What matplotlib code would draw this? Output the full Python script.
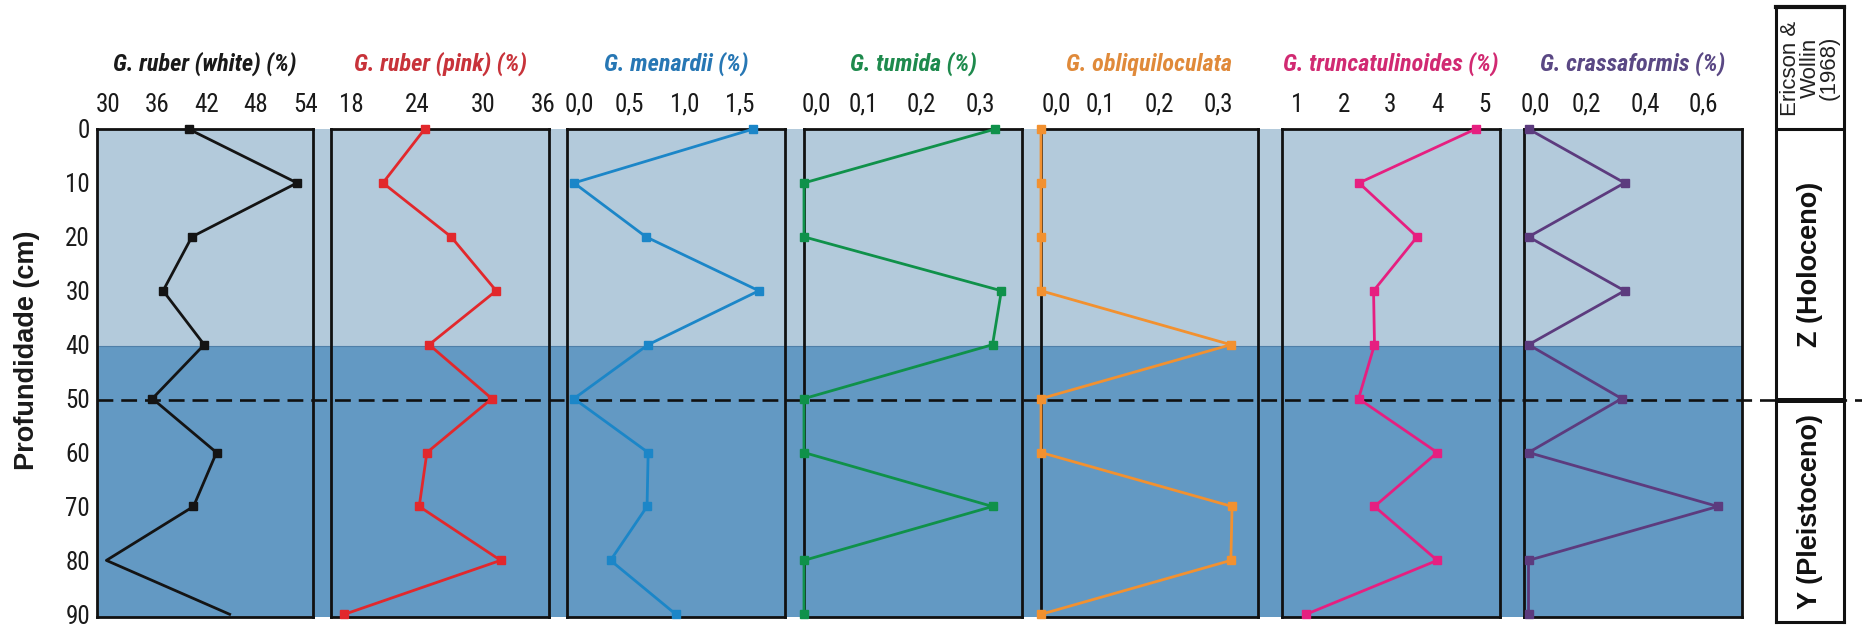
import matplotlib
matplotlib.use("Agg")
import matplotlib.pyplot as plt
from matplotlib import font_manager as fm
from matplotlib.ticker import FixedLocator, FuncFormatter
from matplotlib.transforms import ScaledTranslation

# ---------------------------------------------------------------- data
depth = [0, 10, 20, 30, 40, 50, 60, 70, 80, 90]

ruber_white = [39.8, 53.0, 40.2, 36.7, 41.7, 35.4, 43.2, 40.4, 29.8, 44.8]
ruber_pink = [24.7, 20.9, 27.1, 31.2, 25.1, 30.8, 24.9, 24.2, 31.6, 17.4]
menardii = [1.62, 0.0, 0.65, 1.67, 0.67, 0.0, 0.67, 0.66, 0.33, 0.92]
tumida = [0.325, 0.0, 0.0, 0.335, 0.32, 0.0, 0.0, 0.32, 0.0, 0.0]
obliquiloculata = [0.0, 0.0, 0.0, 0.0, 0.322, 0.0, 0.0, 0.324, 0.322, 0.0]
truncatulinoides = [4.82, 2.33, 3.57, 2.64, 2.66, 2.32, 4.0, 2.66, 4.0, 1.2]
crassaformis = [0.0, 0.33, 0.0, 0.33, 0.0, 0.32, 0.0, 0.65, 0.0, 0.0]

titles = ["G. ruber (white) (%)", "G. ruber (pink) (%)", "G. menardii (%)",
          "G. tumida (%)", "G. obliquiloculata", "G. truncatulinoides (%)",
          "G. crassaformis (%)"]
x_ticks = [[30, 36, 42, 48, 54], [18, 24, 30, 36], [0.0, 0.5, 1.0, 1.5],
           [0.0, 0.1, 0.2, 0.3], [0.0, 0.1, 0.2, 0.3], [1, 2, 3, 4, 5],
           [0.0, 0.2, 0.4, 0.6]]
depth_ticks = [0, 10, 20, 30, 40, 50, 60, 70, 80, 90]

shading_break = 40.2      # change of background shade
zone_boundary = 50.3      # Z / Y boundary (dashed line)
zone_labels = ["Z (Holoceno)", "Y (Pleistoceno)"]
scheme_label = "Ericson &\nWollin\n(1968)"
depth_label = "Profundidade (cm)"

series = [ruber_white, ruber_pink, menardii, tumida, obliquiloculata,
          truncatulinoides, crassaformis]

# ---------------------------------------------------------------- styling
line_colors = ["#141414", "#e2282c", "#1b86c8", "#0f914a", "#f29130",
               "#e61f80", "#5c3b7e"]
title_colors = ["#1a1a1a", "#c8333a", "#2777b4", "#1e8a4d", "#e08a3a",
                "#d12a72", "#5a4884"]
decimals = [0, 0, 1, 1, 1, 0, 1]
xlims = [(28.66, 54.94), (16.18, 36.0), (-0.063, 1.906), (0.0, 0.370),
         (0.0, 0.368), (0.685, 5.34), (-0.0155, 0.733)]
# panel frames in pixels (left, right)
panel_px = [(97, 313), (331, 549), (567, 785), (804, 1022), (1041, 1258),
            (1282, 1500), (1524, 1742)]
first_label_shift = [0, 0, 5, 12, 15, 0, 7]
last_label_shift = [0, -6, 0, 0, 0, 0, 0]
markers_upto = [8, 10, 10, 10, 10, 10, 10]

W, H = 1862, 626
TOP, BOTTOM = 129, 617
YLIM = (90.5, 0)
BG_LIGHT = "#b3cadb"
BG_DARK = "#6399c3"

# a condensed face for ticks and headers, if one is installed
fonts = fm.fontManager.ttflist
available = {f.name for f in fonts}
narrow = None
for cand in ["Liberation Sans Narrow", "Arial Narrow", "Roboto Condensed",
             "Open Sans Condensed", "Noto Sans Condensed",
             "DejaVu Sans Condensed"]:
    if cand in available:
        narrow = {"family": cand}
        break
if narrow is None:
    for f in fonts:
        if f.name == "DejaVu Sans" and str(f.stretch) in ("condensed", "semi-condensed"):
            narrow = {"family": "DejaVu Sans", "stretch": "condensed"}
            break
if narrow is not None:
    tick_size, title_size = 18, 17.5
else:
    narrow = {"family": "Liberation Sans"}
    tick_size, title_size = 15.5, 15
plain = {"family": "Liberation Sans"}

fig = plt.figure(figsize=(W / 100, H / 100), dpi=100)


def px_axes(x0, x1, y0, y1, **kw):
    return fig.add_axes([x0 / W, 1 - y1 / H, (x1 - x0) / W, (y1 - y0) / H], **kw)


# background shading behind all panels
bg = px_axes(panel_px[0][0], panel_px[-1][1], TOP, BOTTOM, zorder=0)
bg.set_ylim(*YLIM)
bg.set_xlim(0, 1)
bg.axhspan(0, shading_break, color=BG_LIGHT, lw=0)
bg.axhspan(shading_break, YLIM[0], color=BG_DARK, lw=0)
bg.axhline(shading_break, color="#4f7fa8", lw=0.8)
bg.axis("off")

# dashed zone boundary, running across to the zonation column
dash_ax = px_axes(panel_px[0][0], W, TOP, BOTTOM, zorder=1)
dash_ax.set_ylim(*YLIM)
dash_ax.set_xlim(0, 1)
dash_ax.axhline(zone_boundary, color="#111111", lw=1.9, dashes=(6, 3))
dash_ax.axis("off")
dash_ax.patch.set_alpha(0)

tick_font = fm.FontProperties(size=tick_size, **narrow)

for i, (vals, (x0, x1)) in enumerate(zip(series, panel_px)):
    ax = px_axes(x0, x1, TOP, BOTTOM, zorder=2)
    ax.patch.set_alpha(0)
    ax.plot(vals, depth, color=line_colors[i], lw=2.0, marker="s",
            markersize=6, markevery=slice(0, markers_upto[i]),
            clip_on=False, zorder=3)
    ax.set_xlim(*xlims[i])
    ax.set_ylim(*YLIM)
    for sp in ax.spines.values():
        sp.set_linewidth(2.0)
        sp.set_color("#111111")
    ax.xaxis.tick_top()
    ax.xaxis.set_major_locator(FixedLocator(x_ticks[i]))
    d = decimals[i]
    ax.xaxis.set_major_formatter(FuncFormatter(
        lambda v, p, d=d: (f"{v:.{d}f}").replace(".", ",")))
    ax.tick_params(axis="x", length=0, pad=9, labelsize=tick_size,
                   colors="#1a1a1a")
    for lab in ax.get_xticklabels():
        lab.set_fontproperties(tick_font)
    if i == 0:
        ax.yaxis.set_major_locator(FixedLocator(depth_ticks))
        ax.tick_params(axis="y", length=0, pad=5, labelsize=tick_size,
                       colors="#1a1a1a")
        for lab in ax.get_yticklabels():
            lab.set_fontproperties(tick_font)
    else:
        ax.set_yticks([])
    ticks = ax.xaxis.get_major_ticks()
    for idx, shift in ((0, first_label_shift[i]), (-1, last_label_shift[i])):
        if shift:
            lab = ticks[idx].label2
            lab.set_transform(lab.get_transform() +
                              ScaledTranslation(shift / 100, 0, fig.dpi_scale_trans))
    fig.text((x0 + x1) / 2 / W, 1 - 71 / H, titles[i], ha="center",
             va="baseline", fontsize=title_size, fontweight="bold",
             fontstyle="italic", color=title_colors[i], **narrow)

fig.text(27 / W, 1 - 350 / H, depth_label, rotation=90, ha="center",
         va="center", fontsize=19.5, fontweight="bold", color="#1a1a1a",
         **plain)

# zonation column (Ericson & Wollin)
px_per_depth = (BOTTOM - TOP) / (YLIM[0] - YLIM[1])
col_top, col_bottom = 7, 622
col = px_axes(1776, 1844, col_top, col_bottom, zorder=3)
col.set_xlim(0, 1)
col.set_ylim((col_bottom - TOP) / px_per_depth, (col_top - TOP) / px_per_depth)
col.set_xticks([])
col.set_yticks([])
for sp in col.spines.values():
    sp.set_linewidth(2.2)
    sp.set_color("#111111")
col.spines["top"].set_linewidth(3.0)
col.axhline(0, color="#111111", lw=2.2)
col.axhline(zone_boundary, color="#111111", lw=3.6)
header_mid = (col_top - TOP) / px_per_depth / 2
col.text(0.5, header_mid, scheme_label, rotation=90, ha="center",
         va="center", multialignment="center", fontsize=16,
         linespacing=0.88, color="#222222", **plain)
col.text(0.5, zone_boundary / 2, zone_labels[0], rotation=90, ha="center",
         va="center", fontsize=19.5, fontweight="bold", color="#111111",
         **plain)
col.text(0.5, (zone_boundary + col.get_ylim()[0]) / 2, zone_labels[1],
         rotation=90, ha="center", va="center", fontsize=19.5,
         fontweight="bold", color="#111111", **plain)

fig.savefig("out.png", dpi=100, facecolor="white")
